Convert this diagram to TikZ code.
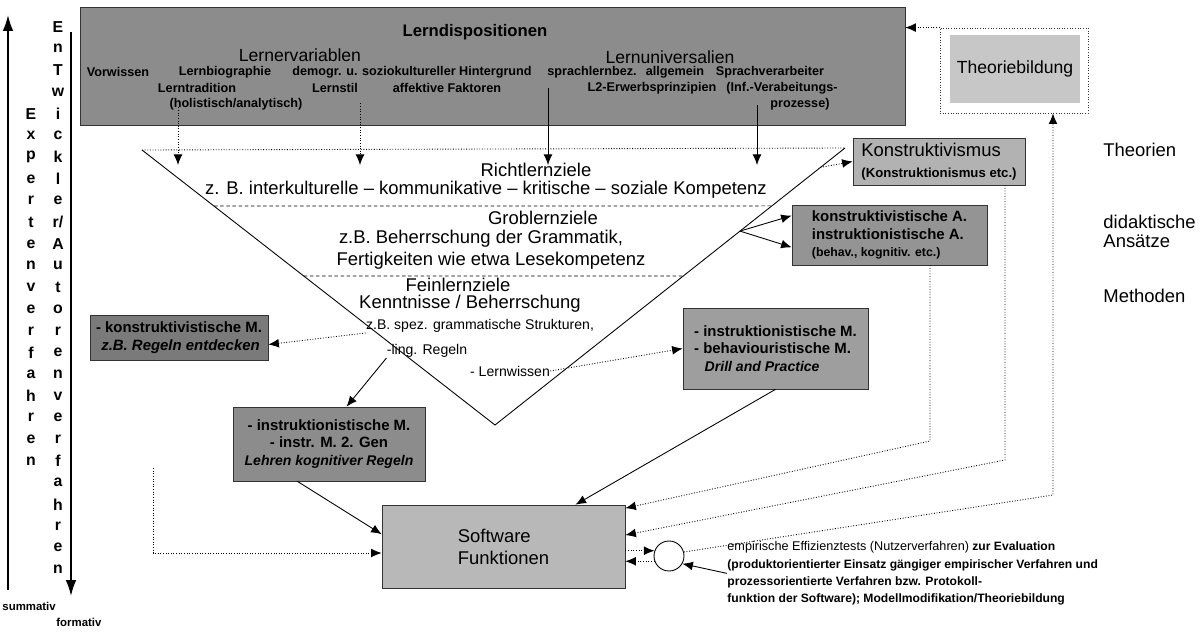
\documentclass[tikz,border=0pt]{standalone}
\usepackage{fontspec}
\setmainfont{Liberation Sans}
\usetikzlibrary{positioning,calc,arrows.meta}

\tikzset{
  box/.style={draw=black!80, line width=0.4pt, inner sep=2pt,
    font=\fontsize{8.5}{10}\selectfont\bfseries},
  tritext/.style={font=\fontsize{10.5}{12}\selectfont, inner sep=0pt},
  trismall/.style={font=\fontsize{8}{9.5}\selectfont, inner sep=0pt},
  toptext/.style={font=\fontsize{7.2}{9}\selectfont\bfseries, inner sep=0pt},
  tophead/.style={font=\fontsize{10}{12}\selectfont, inner sep=0pt},
  sidelabel/.style={font=\fontsize{10.5}{12}\selectfont, inner sep=0pt, anchor=west},
  colletter/.style={font=\fontsize{9}{10}\selectfont\bfseries, inner sep=0pt},
  dotline/.style={densely dotted, line width=0.5pt},
  arr/.style={-{Latex[length=6pt,width=5pt]}},
  bigarr/.style={line width=1pt, -{Latex[length=9pt,width=6pt]}},
}

\begin{document}
\begin{tikzpicture}[x=0.02cm, y=-0.02cm, line width=0.5pt]
\useasboundingbox (0,0) rectangle (1201,632);

% left arrows and letters
\coordinate (upbot) at (8,590); \coordinate (uptop) at (8,15);
\draw[bigarr] (upbot) -- (uptop);
\coordinate (dntop) at (71,32); \coordinate (dnbot) at (71,596);
\draw[bigarr] (dntop) -- (dnbot);
\foreach \ch [count=\i from 0] in {E,n,T,w,i,c,k,l,e,{r/},A,u,t,o,r,e,n,v,e,r,f,a,h,r,e,n}
  \node[colletter] (ent\i) at (58,27+21.7*\i) {\ch};
\foreach \ch [count=\i from 4] in {E,x,p,e,r,t,e,n,v,e,r,f,a,h,r,e,n}
  \node[colletter] (exp\i) at (31,27+21.7*\i) {\ch};
\node[anchor=west, inner sep=0pt, font=\fontsize{6.5}{8}\selectfont\bfseries] (summ) at (2,606) {summativ};
\node[anchor=west, inner sep=0pt, font=\fontsize{6.5}{8}\selectfont\bfseries] (form) at (56,622) {formativ};

% Lerndispositionen
\node[box, fill=black!45, minimum width=16.5cm, minimum height=2.36cm] (lern) at (492.5,66) {};
\node[tophead, font=\fontsize{9.5}{11}\selectfont\bfseries] (lerndisp) at (475,32) {Lerndispositionen};
\node[tophead] (lernvar) at (300,55) {Lernervariablen};
\node[tophead] (lernuni) at (670,57) {Lernuniversalien};
\node[toptext] (vorw) at (118,72) {Vorwissen};
\node[toptext] (lbio) at (225,72) {Lernbiographie};
\node[toptext] (demo) at (412,72) {demogr. u. soziokultureller Hintergrund};
\node[toptext] (sprl) at (592,72) {sprachlernbez.};
\node[toptext] (allg) at (675,72) {allgemein};
\node[toptext] (sprv) at (770,72) {Sprachverarbeiter};
\node[toptext] (ltrad) at (197,88) {Lerntradition};
\node[toptext] (lstil) at (335,88) {Lernstil};
\node[toptext] (affek) at (447,88) {affektive Faktoren};
\node[toptext] (lzwei) at (652,88) {L2-Erwerbsprinzipien};
\node[toptext] (infv) at (782,88) {(Inf.-Verabeitungs-};
\node[toptext] (holi) at (236,104) {(holistisch/analytisch)};
\node[toptext] (proz) at (800,104) {prozesse)};

% Lernziele
\coordinate (tl) at (142,150); \coordinate (tr) at (845,148); \coordinate (tb) at (495,425);
\draw (tl) -- (tb) -- (tr);
\draw[dotline] (tl) -- (tr);
\draw[line width=0.4pt, dash pattern=on 2pt off 1.5pt] ($(tl)!0.204!(tb)$) -- ($(tr)!0.209!(tb)$);
\draw[line width=0.4pt, dash pattern=on 2pt off 1.5pt] ($(tl)!0.458!(tb)$) -- ($(tr)!0.462!(tb)$);
\foreach \xa/\nm in {178/ra, 360/rb, 548/rc, 757/rd} \coordinate (\nm) at (\xa,165);
\draw[dotline,arr] ($(lern.south -| ra)+(0,-18)$) -- (ra);
\draw[dotline,arr] ($(lern.south -| rb)+(0,-22)$) -- (rb);
\draw[arr] ($(lern.south -| rc)+(0,-37)$) -- (rc);
\draw[arr] ($(lern.south -| rd)+(0,-20)$) -- (rd);

\node[tritext] (richt) at (536,170) {Richtlernziele};
\node[tritext] (richtbsp) at (486,190) {z. B. interkulturelle – kommunikative – kritische – soziale Kompetenz};
\node[tritext] (grob) at (543,218) {Groblernziele};
\node[tritext] (grobbsp) at (481,239) {z.B. Beherrschung der Grammatik,};
\node[tritext] (grobfert) at (491,261) {Fertigkeiten wie etwa Lesekompetenz};
\node[tritext] (fein) at (458,285) {Feinlernziele};
\node[tritext] (feinbsp) at (470,304) {Kenntnisse / Beherrschung};
\node[trismall] (feinstr) at (480,326) {z.B. spez. grammatische Strukturen,};
\node[trismall] (feinling) at (427,351) {-ling. Regeln};
\node[trismall] (feinwiss) at (510,371) {- Lernwissen};

% Theorien / Ansaetze / Methoden
\node[box, font=\fontsize{10.5}{12}\selectfont, fill=black!30, minimum width=3.44cm, minimum height=0.94cm, align=left] (konstr) at (939,161.5)
  {Konstruktivismus\\{\fontsize{7.5}{9}\selectfont\bfseries(Konstruktionismus etc.)}};
\node[box, fill=black!42, minimum width=3.9cm, minimum height=1.2cm, align=left] (didakt) at (889.5,235)
  {konstruktivistische A.\\instruktionistische A.\\{\fontsize{7}{9}\selectfont(behav., kognitiv. etc.)}};
\node[box, fill=black!52, minimum width=3.56cm, minimum height=0.9cm, align=left] (leftm) at (179,337.5)
  {- konstruktivistische M.\\\hspace*{3pt}{\itshape z.B. Regeln entdecken}};
\node[box, fill=black!45, minimum width=3.84cm, minimum height=1.48cm, align=center] (instr) at (329,444)
  {- instruktionistische M.\\- instr. M. 2. Gen\\{\itshape\fontsize{8}{9.5}\selectfont Lehren kognitiver Regeln}};
\node[box, fill=black!38, minimum width=3.7cm, minimum height=1.62cm, align=left] (drill) at (775.5,348.5)
  {- instruktionistische M.\\- behaviouristische M.\\\hspace*{6pt}{\itshape\fontsize{8}{9.5}\selectfont Drill and Practice}};
\node[box, font=\fontsize{10.5}{12.5}\selectfont, fill=black!28, minimum width=4.86cm, minimum height=1.66cm, align=left] (soft) at (503.5,546.5)
  {Software\\Funktionen};

\node[draw=black!80, densely dotted, fill=white, minimum width=2.96cm, minimum height=1.7cm] (theo) at (1014,70.5) {};
\node[fill=black!22, minimum width=2.6cm, minimum height=1.36cm, font=\fontsize{10}{12}\selectfont] (theoin) at (1015,69) {Theoriebildung};

\node[sidelabel] (ltheo) at (1103,150) {Theorien};
\node[sidelabel] (ldid) at (1103,222) {didaktische};
\node[sidelabel] (lans) at (1103,241) {Ansätze};
\node[sidelabel] (lmeth) at (1103,296) {Methoden};

% Evaluation
\node[draw, circle, minimum size=0.6cm, inner sep=0pt, fill=white] (circ) at (669,556) {};
\node[anchor=north west, align=left, inner sep=0pt, font=\fontsize{6.9}{9.9}\selectfont\bfseries] (evaltext) at (727,541)
  {{\mdseries\fontsize{7.2}{9.9}\selectfont empirische Effizienztests (Nutzerverfahren)} zur Evaluation\\
   (produktorientierter Einsatz gängiger empirischer Verfahren und\\
   prozessorientierte Verfahren bzw. Protokoll-\\
   funktion der Software); Modellmodifikation/Theoriebildung};

% connectors
\coordinate (tkon) at ($(tr)!0.07!(tb)$);
\coordinate (tdid) at ($(tr)!0.30!(tb)$);
\draw[dotline,arr] (tkon) -- (konstr.west);
\draw[arr] (tdid) -- ([yshift=11pt]didakt.west);
\draw[arr] (tdid) -- ([yshift=-7pt]didakt.west);
\draw[dotline,arr] (feinstr.south west) -- ([yshift=-4pt]leftm.east);
\draw[arr] (feinling.south west) -- ([xshift=10pt]instr.north);
\draw[dotline,arr] (feinwiss.east) -- (drill.west);
\draw[arr] ([xshift=-18pt]instr.south) -- ([yshift=7pt]soft.west);
\draw[arr] (drill.south) -- ([xshift=41pt]soft.north);
\coordinate (lstart) at (153,468);
\draw[dotline,arr] (lstart) |- ([yshift=-3.7pt]soft.west);

\draw[dotline,arr] (theo.north west) -- (theo.north west -| lern.east);
\coordinate (didc) at (930,441); \coordinate (konc) at (1005,460); \coordinate (theoc) at (1053,495);
\draw[dotline,arr] (didakt.south -| didc) -- (didc) -- ([yshift=21.8pt]soft.east);
\draw[dotline,arr] (konstr.south -| konc) -- (konc) -- ([yshift=6.5pt]soft.east);
\draw[dotline,arr] (circ.15) -- (theoc) -- (theoc |- theo.south);
\draw[dotline,arr] (soft.east |- circ.160) -- (circ.160);
\draw[dotline,arr] (circ.200) -- (soft.east |- circ.200);
\draw[arr] (evaltext.west) -- (circ.-30);
\end{tikzpicture}
\end{document}
